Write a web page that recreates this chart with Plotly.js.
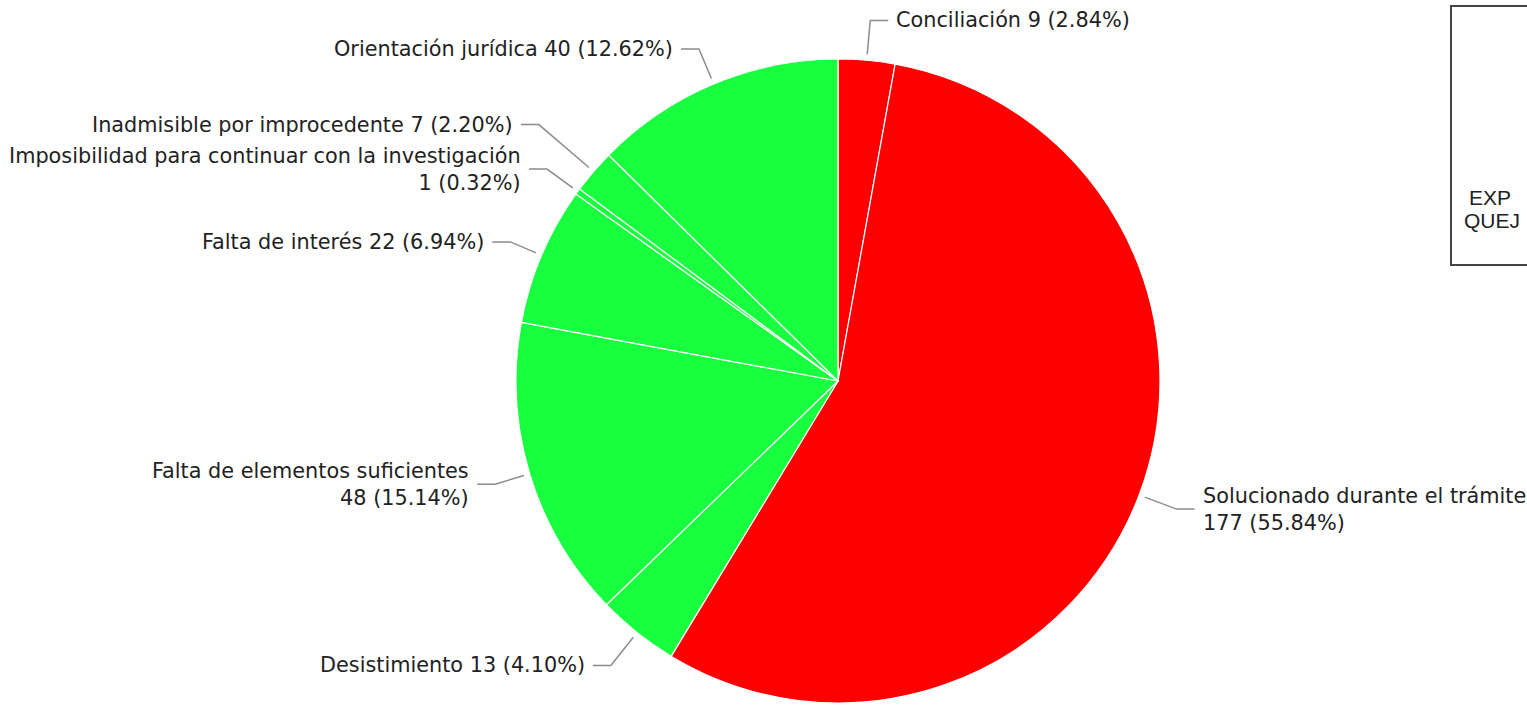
<!DOCTYPE html>
<html>
<head>
<meta charset="utf-8">
<script src="https://cdn.plot.ly/plotly-3.0.1.min.js"></script>
<style>
html,body{margin:0;padding:0;background:#fff;}
#chart{width:1527px;height:705px;}
</style>
</head>
<body>
<div id="chart"></div>
<script>
// ---- data ----
const categories = [
  "Conciliación",
  "Solucionado durante el trámite",
  "Desistimiento",
  "Falta de elementos suficientes",
  "Falta de interés",
  "Imposibilidad para continuar con la investigación",
  "Inadmisible por improcedente",
  "Orientación jurídica"
];
const values = [9, 177, 13, 48, 22, 1, 7, 40];
const percentLabels = ["2.84%", "55.84%", "4.10%", "15.14%", "6.94%", "0.32%", "2.20%", "12.62%"];
// how each label text is broken into lines
const labelTexts = [
  "Conciliación 9 (2.84%)",
  "Solucionado durante el trámite<br>177 (55.84%)",
  "Desistimiento 13 (4.10%)",
  "Falta de elementos suficientes<br>48 (15.14%)",
  "Falta de interés 22 (6.94%)",
  "Imposibilidad para continuar con la investigación<br>1 (0.32%)",
  "Inadmisible por improcedente 7 (2.20%)",
  "Orientación jurídica 40 (12.62%)"
];
const legendLines = ["EXP", "QUEJ"];

// ---- style / layout config ----
const sliceColors = ["#ff0000", "#ff0000", "#17ff3f", "#17ff3f", "#17ff3f", "#17ff3f", "#17ff3f", "#17ff3f"];
const leaderExt = [40, 40, 42, 36, 34, 38, 72, 38];
const W = 1527, H = 705;
const cx = 838, cy = 381, R = 322;
const labelFont = { family: "DejaVu Sans, Verdana, sans-serif", size: 20.8, color: "#222" };

const total = values.reduce((a, b) => a + b, 0);
const px = x => x / W;
const py = y => 1 - y / H;

const shapes = [];
const annotations = [];
let cum = 0;
values.forEach((v, i) => {
  const mid = (cum + v / 2) / total * 2 * Math.PI; // clockwise from top
  cum += v;
  const s = Math.sin(mid), c = Math.cos(mid);
  const r0 = R + 6, r1 = R + leaderExt[i];
  const x0 = cx + r0 * s, y0 = cy - r0 * c;
  const x1 = cx + r1 * s, y1 = cy - r1 * c;
  const right = s >= 0;
  const x2 = x1 + (right ? 18 : -18);
  shapes.push({
    type: "path", xref: "paper", yref: "paper",
    path: `M ${px(x0)} ${py(y0)} L ${px(x1)} ${py(y1)} L ${px(x2)} ${py(y1)}`,
    line: { color: "#8c8c8c", width: 1.5 }
  });
  annotations.push({
    xref: "paper", yref: "paper",
    x: px(x2 + (right ? 6 : -6)), y: py(y1),
    xanchor: right ? "left" : "right", yanchor: "middle",
    align: right ? "left" : "right",
    text: labelTexts[i], showarrow: false,
    font: labelFont
  });
});

// partial legend box at the right edge
shapes.push({
  type: "rect", xref: "paper", yref: "paper",
  x0: px(1451), x1: px(1700), y0: py(265), y1: py(6),
  line: { color: "#444", width: 2 }, fillcolor: "rgba(0,0,0,0)"
});
annotations.push({
  xref: "paper", yref: "paper", x: px(1467), y: py(197), xanchor: "left", yanchor: "middle",
  text: legendLines[0], showarrow: false,
  font: { family: "Liberation Sans, Arial, sans-serif", size: 21, color: "#222" }
});
annotations.push({
  xref: "paper", yref: "paper", x: px(1462), y: py(220), xanchor: "left", yanchor: "middle",
  text: legendLines[1], showarrow: false,
  font: { family: "Liberation Sans, Arial, sans-serif", size: 21, color: "#222" }
});

const trace = {
  type: "pie",
  labels: categories,
  values: values,
  sort: false,
  direction: "clockwise",
  rotation: 0,
  textinfo: "none",
  hoverinfo: "label+value+percent",
  marker: { colors: sliceColors, line: { color: "#ffffff", width: 1.2 } },
  domain: { x: [px(cx - R), px(cx + R)], y: [py(cy + R), py(cy - R)] },
  showlegend: false
};

const layout = {
  width: W, height: H,
  margin: { l: 0, r: 0, t: 0, b: 0 },
  paper_bgcolor: "#ffffff",
  showlegend: false,
  shapes: shapes,
  annotations: annotations
};

Plotly.newPlot("chart", [trace], layout, { displayModeBar: false, staticPlot: true });
</script>
</body>
</html>
